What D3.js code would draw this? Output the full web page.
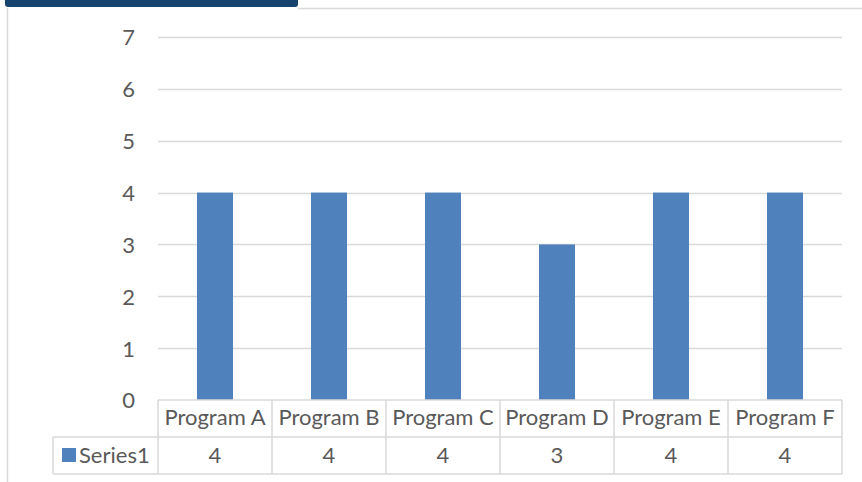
<!DOCTYPE html>
<html><head><meta charset="utf-8">
<script src="https://cdn.jsdelivr.net/npm/d3@7"></script>
<style>html,body{margin:0;padding:0;background:#fff;}svg{display:block;}</style>
</head><body>
<svg id="c" width="862" height="482"></svg>
<script>
const categories = ["Program A","Program B","Program C","Program D","Program E","Program F"];
const series1 = [4,4,4,3,4,4];
const seriesName = "Series1";
const yTicks = [0,1,2,3,4,5,6,7];

const svg = d3.select("#c");
const font = "Lato, 'Open Sans', sans-serif";
const fs = 22;
const textColor = "#595959";
const gridColor = "#d9d9d9";

// frame
svg.append("rect").attr("x",5).attr("y",-6).attr("width",293).attr("height",13).attr("rx",3).attr("fill","#17436f");
svg.append("line").attr("x1",7.5).attr("x2",7.5).attr("y1",8).attr("y2",482).attr("stroke",gridColor).attr("stroke-width",1.5);
svg.append("line").attr("x1",298).attr("x2",862).attr("y1",8.5).attr("y2",8.5).attr("stroke",gridColor).attr("stroke-width",1.5);

const left = 158, right = 842;
const x = d3.scaleBand().domain(categories).range([left, right]).paddingInner(0).paddingOuter(0);
const y = d3.scaleLinear().domain([0,7]).range([400, 37]);

// gridlines
svg.append("g").selectAll("line").data(yTicks.filter(d=>d>0)).join("line")
  .attr("x1",left).attr("x2",right).attr("y1",d=>Math.round(y(d))+0.5).attr("y2",d=>Math.round(y(d))+0.5)
  .attr("stroke",gridColor).attr("stroke-width",1.5);

// y axis labels
const yAxis = d3.axisLeft(y).tickValues(yTicks).tickFormat(d3.format("d")).tickSize(0).tickPadding(0);
const ga = svg.append("g").attr("transform",`translate(${left-23},0)`).call(yAxis);
ga.select(".domain").remove();
ga.selectAll("text").attr("font-family",font).attr("font-size",fs).attr("fill",textColor).attr("dy","0.36em");

// bars
const bw = 36;
svg.append("g").selectAll("rect").data(series1).join("rect")
  .attr("x",(d,i)=>x(categories[i]) + x.bandwidth()/2 - bw/2)
  .attr("width",bw)
  .attr("y",d=>y(d)).attr("height",d=>y(0)-y(d))
  .attr("fill","#4f81bd");

// data table
const rowTop = 400, rowMid = 437, rowBot = 474, tableLeft = 53;
const tg = svg.append("g");
const lc = "#d9d9d9";
tg.append("line").attr("x1",left).attr("x2",right).attr("y1",rowTop).attr("y2",rowTop).attr("stroke",lc).attr("stroke-width",1.5);
tg.append("line").attr("x1",tableLeft).attr("x2",right).attr("y1",rowMid).attr("y2",rowMid).attr("stroke",lc).attr("stroke-width",1.5);
tg.append("line").attr("x1",tableLeft).attr("x2",right).attr("y1",rowBot).attr("y2",rowBot).attr("stroke",lc).attr("stroke-width",1.5);
tg.append("line").attr("x1",tableLeft).attr("x2",tableLeft).attr("y1",rowMid).attr("y2",rowBot).attr("stroke",lc).attr("stroke-width",1.5);
const edges = categories.map(c=>x(c)).concat([right]);
tg.selectAll("line.v").data(edges).join("line").attr("class","v")
  .attr("x1",d=>d).attr("x2",d=>d).attr("y1",rowTop).attr("y2",rowBot).attr("stroke",lc).attr("stroke-width",1.5);

tg.selectAll("text.h").data(categories).join("text").attr("class","h")
  .attr("x",d=>x(d)+x.bandwidth()/2).attr("y",425)
  .attr("text-anchor","middle").attr("font-family",font).attr("font-size",fs).attr("fill",textColor).text(d=>d);
tg.selectAll("text.v").data(series1).join("text").attr("class","v")
  .attr("x",(d,i)=>x(categories[i])+x.bandwidth()/2).attr("y",463)
  .attr("text-anchor","middle").attr("font-family",font).attr("font-size",fs).attr("fill",textColor).text(d=>d);

tg.append("rect").attr("x",62).attr("y",448).attr("width",14).attr("height",14).attr("fill","#4f81bd");
tg.append("text").attr("x",79).attr("y",463).attr("font-family",font).attr("font-size",fs).attr("fill",textColor).text(seriesName);
</script>
</body></html>
